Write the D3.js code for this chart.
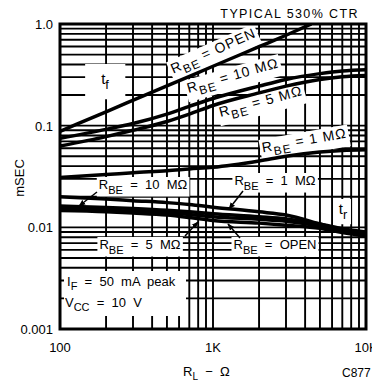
<!DOCTYPE html>
<html><head><meta charset="utf-8">
<script src="https://cdn.jsdelivr.net/npm/d3@7"></script>
<style>
html,body{margin:0;padding:0;background:#fff;}
svg{display:block;}
text{font-family:"Liberation Sans",Arial,sans-serif;fill:#000;white-space:pre;}
</style></head>
<body>
<svg id="chart" width="372" height="383"></svg>
<script>
// ---------- data ----------
const rl = [100, 200, 300, 500, 700, 1000, 2000, 3000, 5000, 7000, 10000];
const tfOpenRl = [100, 200, 500, 1000, 2000, 3000, 4400];
const tfOpen = [0.088, 0.137, 0.246, 0.384, 0.598, 0.775, 1.0];
const tf10M = [0.075, 0.092, 0.105, 0.13, 0.155, 0.185, 0.245, 0.285, 0.325, 0.345, 0.355];
const tf5M  = [0.063, 0.078, 0.09, 0.11, 0.13, 0.158, 0.21, 0.245, 0.285, 0.303, 0.312];
const tf1M  = [0.031, 0.033, 0.0345, 0.036, 0.0375, 0.039, 0.045, 0.05, 0.055, 0.057, 0.058];
const tr1M  = [0.020, 0.019, 0.0183, 0.0175, 0.0168, 0.0158, 0.0142, 0.0132, 0.0108, 0.0094, 0.0084];
const tr10M = [0.0162, 0.0157, 0.0153, 0.0147, 0.0142, 0.0136, 0.0127, 0.0121, 0.0108, 0.0097, 0.009];
const tr5M  = [0.0152, 0.0148, 0.0144, 0.0139, 0.0134, 0.0127, 0.012, 0.0115, 0.0103, 0.0093, 0.0086];
const trOpen= [0.0146, 0.0142, 0.0138, 0.0132, 0.0125, 0.0117, 0.011, 0.0105, 0.0098, 0.0089, 0.0082];
const xTickValues = [100, 1000, 10000];
const xTickLabels = ["100", "1K", "10K"];
const yTickValues = [1, 0.1, 0.01, 0.001];
const yTickLabels = ["1.0", "0.1", "0.01", "0.001"];

// ---------- layout ----------
const L = 60, R = 366, T = 24, B = 329;
const x = d3.scaleLog().domain([100, 10000]).range([L, R]);
const y = d3.scaleLog().domain([0.001, 1]).range([B, T]);
const svg = d3.select("#chart");

svg.append("defs").append("clipPath").attr("id", "plotclip")
  .append("rect").attr("x", L).attr("y", T).attr("width", R - L).attr("height", B - T);
const mk = svg.select("defs").append("marker").attr("id", "arr")
  .attr("viewBox", "0 0 10 10").attr("refX", 9).attr("refY", 5)
  .attr("markerWidth", 7).attr("markerHeight", 7).attr("orient", "auto")
  .attr("markerUnits", "userSpaceOnUse");
mk.append("path").attr("d", "M0,1 L10,5 L0,9 Z").attr("fill", "#000");

const gGrid = svg.append("g");
const gBg = svg.append("g");
const gCurves = svg.append("g").attr("clip-path", "url(#plotclip)");
const gText = svg.append("g");

// grid
const xGrid = [], yGrid = [];
[100, 1000].forEach(d => { for (let k = 1; k <= 9; k++) xGrid.push(d * k); });
xGrid.push(10000);
[0.001, 0.01, 0.1].forEach(d => { for (let k = 1; k <= 9; k++) yGrid.push(d * k); });
yGrid.push(1);
gGrid.selectAll(".vg").data(xGrid).join("line")
  .attr("x1", d => x(d)).attr("x2", d => x(d)).attr("y1", T).attr("y2", B)
  .attr("stroke", "#000").attr("stroke-width", 1.9);
gGrid.selectAll(".hg").data(yGrid).join("line")
  .attr("y1", d => y(d)).attr("y2", d => y(d)).attr("x1", L).attr("x2", R)
  .attr("stroke", "#000").attr("stroke-width", 1.9);

// annotation box background (covers grid)
gBg.append("rect").attr("x", 64).attr("y", 271).attr("width", 122).attr("height", 45).attr("fill", "#fff");

// frame
svg.append("rect").attr("x", L).attr("y", T).attr("width", R - L).attr("height", B - T)
  .attr("fill", "none").attr("stroke", "#000").attr("stroke-width", 3);

// curves
const line = d3.line().x(d => x(d[0])).y(d => y(d[1])).curve(d3.curveMonotoneX);
const series = [
  d3.zip(tfOpenRl, tfOpen), d3.zip(rl, tf10M), d3.zip(rl, tf5M), d3.zip(rl, tf1M),
  d3.zip(rl, tr1M), d3.zip(rl, tr10M), d3.zip(rl, tr5M), d3.zip(rl, trOpen)
];
gCurves.selectAll("path").data(series).join("path")
  .attr("d", line).attr("fill", "none").attr("stroke", "#000").attr("stroke-width", 3.5)
  .attr("stroke-linejoin", "round");

// label helper
function label(parts, cx, cy, angle, size, bg, ls, pad) {
  pad = pad || [2, 0];
  const g = gText.append("g").attr("transform", `translate(${cx},${cy}) rotate(${angle})`);
  const t = g.append("text").attr("text-anchor", "middle").attr("font-size", size)
    .attr("letter-spacing", ls || 0);
  parts.forEach(p => {
    const ts = t.append("tspan").text(p.t);
    if (p.sub) ts.attr("font-size", size * 0.85).attr("dy", size * 0.35);
    if (p.up) ts.attr("dy", -size * 0.35);
  });
  if (bg) {
    const bb = t.node().getBBox();
    gBg.append("rect").attr("transform", `translate(${cx},${cy}) rotate(${angle})`)
      .attr("x", bb.x - pad[0]).attr("y", bb.y - pad[1])
      .attr("width", bb.width + 2 * pad[0]).attr("height", bb.height + 1 + 2 * pad[1])
      .attr("fill", "#fff");
  }
  return t;
}
const rbe = (rest) => [{t: "R"}, {t: "BE", sub: true}, {t: rest, up: true}];

label(rbe(" = OPEN"), 215, 55, -24, 14, true, 1);
label(rbe(" = 10 MΩ"), 234, 80, -16, 14, true, 1);
label(rbe(" = 5 MΩ"), 262, 106, -15, 14, true, 1);
label(rbe(" = 1 MΩ"), 305, 145, -10, 14, true, 1);
label(rbe("  =  10  MΩ"), 143, 189, 0, 13, true);
label(rbe("  =  1  MΩ"), 275, 185, 0, 13, true);
label(rbe("  =  5  MΩ"), 140, 249, 0, 13, true);
label(rbe("  =  OPEN"), 275, 249, 0, 13, true);
label([{t: "t"}, {t: "f", sub: true}], 105, 84, 0, 15, true, 0, [16, 6]);
label([{t: "t"}, {t: "r", sub: true}], 343, 214, 0, 15, true, 0, [3, 1]);

// arrows
const arrows = [
  [[97, 192], [79, 206]],
  [[243, 191], [229, 209]],
  [[185, 236], [198, 222]],
  [[240, 238], [228, 224]]
];
gText.selectAll(".arrow").data(arrows).join("line")
  .attr("x1", d => d[0][0]).attr("y1", d => d[0][1]).attr("x2", d => d[1][0]).attr("y2", d => d[1][1])
  .attr("stroke", "#000").attr("stroke-width", 1.5).attr("marker-end", "url(#arr)");

// annotation text
gText.append("text").attr("x", 67).attr("y", 286).attr("font-size", 13)
  .call(t => { t.append("tspan").text("I"); t.append("tspan").text("F").attr("font-size", 11).attr("dy", 4);
               t.append("tspan").text("  =  50  mA  peak").attr("dy", -4); });
gText.append("text").attr("x", 65).attr("y", 307).attr("font-size", 13)
  .call(t => { t.append("tspan").text("V"); t.append("tspan").text("CC").attr("font-size", 11).attr("dy", 4);
               t.append("tspan").text("  =  10  V").attr("dy", -4); });

// title
gText.append("text").attr("x", 359).attr("y", 18).attr("text-anchor", "end")
  .attr("font-size", 12.5).attr("letter-spacing", 1.4).text("TYPICAL 530% CTR");

// axes tick labels
gText.selectAll(".yt").data(yTickValues).join("text")
  .attr("x", 53).attr("y", d => y(d) + 5).attr("text-anchor", "end").attr("font-size", 13)
  .text((d, i) => yTickLabels[i]);
gText.selectAll(".xt").data(xTickValues).join("text")
  .attr("x", d => x(d)).attr("y", 352).attr("text-anchor", "middle").attr("font-size", 13)
  .text((d, i) => xTickLabels[i]);

// axis titles
gText.append("text").attr("transform", "translate(24,178) rotate(-90)").attr("text-anchor", "middle")
  .attr("font-size", 13).text("mSEC");
gText.append("text").attr("x", 183).attr("y", 376).attr("font-size", 13)
  .call(t => { t.append("tspan").text("R"); t.append("tspan").text("L").attr("font-size", 10).attr("dy", 4);
               t.append("tspan").text("  −  Ω").attr("dy", -4); });
gText.append("text").attr("x", 342).attr("y", 377).attr("font-size", 12).text("C877");
</script>
</body></html>
